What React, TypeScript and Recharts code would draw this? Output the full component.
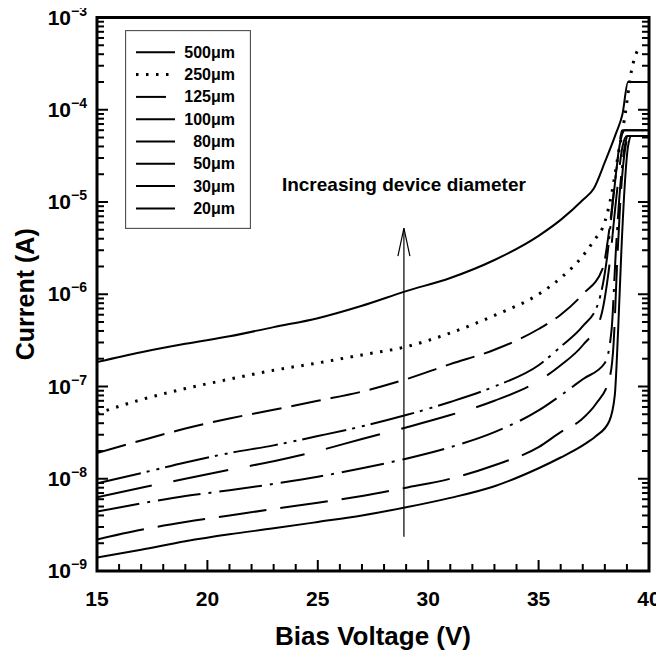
import React from 'react';
import { LineChart, Line, XAxis, YAxis, ReferenceArea, ReferenceLine, ReferenceDot, Legend, Label } from 'recharts';

const FONT = "'Liberation Sans', Arial, Helvetica, sans-serif";

// axis ticks
const X_MAJOR = [15, 20, 25, 30, 35, 40];
const X_TICKS = [15, 16, 17, 18, 19, 20, 21, 22, 23, 24, 25, 26, 27, 28, 29, 30, 31, 32, 33, 34, 35, 36, 37, 38, 39, 40];
const Y_DECADES = [1e-9, 1e-8, 1e-7, 1e-6, 1e-5, 1e-4, 1e-3];
const Y_EXPONENTS = ['−9', '−8', '−7', '−6', '−5', '−4', '−3'];
const Y_MINOR_MULTS = [2, 3, 4, 5, 6, 7, 8, 9];
const Y_TICKS = [
  ...Y_DECADES,
  ...Y_DECADES.slice(0, -1).flatMap((d) => Y_MINOR_MULTS.map((m) => m * d)),
];

// measured I-V curves, one pair of arrays per device diameter
const V_500 = [15, 17, 19, 21, 23, 25, 27, 29, 31, 33, 35, 36, 37, 37.5, 38, 38.5, 38.8, 39.05, 40];
const I_500 = [1.84e-7, 2.35e-7, 2.9e-7, 3.5e-7, 4.4e-7, 5.5e-7, 7.5e-7, 1.08e-6, 1.5e-6, 2.35e-6, 4.3e-6, 6.4e-6, 1.05e-5, 1.4e-5, 2.7e-5, 5.5e-5, 9e-5, 2e-4, 2e-4];

const V_250 = [15, 17, 19, 21, 23, 25, 27, 29, 31, 33, 35, 36, 37, 37.5, 38, 38.3, 38.6, 38.9, 39.2, 39.6];
const I_250 = [5.1e-8, 7.2e-8, 9.5e-8, 1.2e-7, 1.5e-7, 1.8e-7, 2.2e-7, 2.7e-7, 3.8e-7, 5.9e-7, 1.0e-6, 1.5e-6, 2.6e-6, 3.8e-6, 6.1e-6, 1.2e-5, 3.2e-5, 8.3e-5, 2.6e-4, 5e-4];

const V_125 = [15, 17, 19, 21, 23, 25, 27, 29, 31, 33, 35, 36, 37, 37.9, 38.2, 38.5, 38.8, 40];
const I_125 = [1.9e-8, 2.6e-8, 3.5e-8, 4.5e-8, 5.6e-8, 7e-8, 8.8e-8, 1.2e-7, 1.75e-7, 2.5e-7, 4.2e-7, 6e-7, 1.0e-6, 1.9e-6, 5e-6, 2e-5, 6e-5, 6e-5];

const V_100 = [15, 17, 19, 21, 23, 25, 27, 29, 31, 33, 35, 36, 37, 37.7, 38.1, 38.4, 38.7, 38.9, 40];
const I_100 = [8.9e-9, 1.15e-8, 1.5e-8, 1.9e-8, 2.3e-8, 2.9e-8, 3.7e-8, 4.9e-8, 6.8e-8, 1.0e-7, 1.7e-7, 2.7e-7, 4.5e-7, 8e-7, 2.5e-6, 1.2e-5, 4.5e-5, 6e-5, 6e-5];

const V_80 = [15, 17, 19, 21, 23, 25, 27, 29, 31, 33, 35, 36, 37, 37.8, 38.2, 38.5, 38.8, 39.0, 40];
const I_80 = [6.3e-9, 8e-9, 1.0e-8, 1.25e-8, 1.55e-8, 2.0e-8, 2.7e-8, 3.6e-8, 4.9e-8, 7e-8, 1.15e-7, 1.7e-7, 2.8e-7, 5.5e-7, 2e-6, 1e-5, 4e-5, 5.2e-5, 5.2e-5];

const V_50 = [15, 17, 19, 21, 23, 25, 27, 29, 31, 33, 35, 36, 37, 38, 38.3, 38.5, 38.7, 38.9, 39.05, 40];
const I_50 = [4.4e-9, 5.4e-9, 6.5e-9, 7.5e-9, 8.8e-9, 1.05e-8, 1.3e-8, 1.65e-8, 2.2e-8, 3.2e-8, 5.5e-8, 8e-8, 1.2e-7, 1.8e-7, 4e-7, 3e-6, 1.5e-5, 4e-5, 5.2e-5, 5.2e-5];

const V_30 = [15, 17, 19, 21, 23, 25, 27, 29, 31, 33, 35, 36, 36.9, 37.6, 38.2, 38.4, 38.55, 38.7, 38.9, 39.1, 40];
const I_30 = [2.2e-9, 2.8e-9, 3.4e-9, 4.0e-9, 4.7e-9, 5.5e-9, 6.5e-9, 8e-9, 1.0e-8, 1.4e-8, 2.2e-8, 3.2e-8, 4.3e-8, 6.5e-8, 1.2e-7, 3e-7, 2e-6, 1e-5, 3.5e-5, 5.2e-5, 5.2e-5];

const V_20 = [15, 17, 19, 21, 23, 25, 27, 29, 31, 33, 35, 36, 37, 37.6, 38.2, 38.45, 38.6, 38.75, 38.9, 39.05, 39.2, 40];
const I_20 = [1.4e-9, 1.7e-9, 2.1e-9, 2.5e-9, 2.9e-9, 3.4e-9, 4.0e-9, 4.9e-9, 6.2e-9, 8.3e-9, 1.3e-8, 1.7e-8, 2.3e-8, 2.9e-8, 4.2e-8, 8e-8, 4e-7, 3e-6, 1.5e-5, 4e-5, 5.2e-5, 5.2e-5];

// annotation: arrow at this bias, between these currents
const ARROW_V = 28.9;
const ARROW_I = [2.35e-9, 5.2e-6];
const NOTE_I = 1.57e-5;

const toPoints = (v: number[], i: number[]) => v.map((x, k) => ({ v: x, i: i[k] }));

const SERIES = [
  { name: '500μm', data: toPoints(V_500, I_500), dash: undefined, width: 2 },
  { name: '250μm', data: toPoints(V_250, I_250), dash: '2.5 7.5', width: 3 },
  { name: '125μm', data: toPoints(V_125, I_125), dash: '30 10', width: 2 },
  { name: '100μm', data: toPoints(V_100, I_100), dash: '45 6 3 7 3 6', width: 2 },
  { name: '80μm', data: toPoints(V_80, I_80), dash: '56 22', width: 2 },
  { name: '50μm', data: toPoints(V_50, I_50), dash: '43 8 3 8', width: 2 },
  { name: '30μm', data: toPoints(V_30, I_30), dash: '48 14', width: 2 },
  { name: '20μm', data: toPoints(V_20, I_20), dash: undefined, width: 2 },
];

function XTick(props: any) {
  const { x, y, payload } = props;
  const major = X_MAJOR.includes(payload.value);
  return (
    <g>
      <line x1={x} x2={x} y1={y} y2={y - (major ? 11 : 7)} stroke="#000" strokeWidth={2} />
      {major && (
        <text x={x} y={y + 35} textAnchor="middle" fontSize={21} fontWeight="bold" fontFamily={FONT} fill="#000">
          {payload.value}
        </text>
      )}
    </g>
  );
}

function YTickLeft(props: any) {
  const { x, y, payload } = props;
  const idx = Y_DECADES.indexOf(payload.value);
  const major = idx >= 0;
  return (
    <g>
      <line x1={x} x2={x + (major ? 11 : 7)} y1={y} y2={y} stroke="#000" strokeWidth={2} />
      {major && (
        <text x={x - 10} y={y + 7} textAnchor="end" fontSize={21} fontWeight="bold" fontFamily={FONT} fill="#000">
          10
          <tspan fontSize={14} dy={-9}>
            {Y_EXPONENTS[idx]}
          </tspan>
        </text>
      )}
    </g>
  );
}

function YTickRight(props: any) {
  const { x, y, payload } = props;
  const major = Y_DECADES.indexOf(payload.value) >= 0;
  return <line x1={x} x2={x - (major ? 11 : 7)} y1={y} y2={y} stroke="#000" strokeWidth={2} />;
}

function XTitle(props: any) {
  const vb = props.viewBox;
  return (
    <text x={vb.x + vb.width / 2} y={vb.y + 74} textAnchor="middle" fontSize={26} fontWeight="bold" fontFamily={FONT} fill="#000">
      Bias Voltage (V)
    </text>
  );
}

function YTitle(props: any) {
  const vb = props.viewBox;
  const cx = 25;
  const cy = vb.y + vb.height / 2;
  return (
    <text
      x={cx}
      y={cy}
      transform={`rotate(-90 ${cx} ${cy})`}
      textAnchor="middle"
      dominantBaseline="central"
      fontSize={25}
      fontWeight="bold"
      fontFamily={FONT}
      fill="#000"
    >
      Current (A)
    </text>
  );
}

function ArrowShape(p: any) {
  const x = p.x1;
  const top = Math.min(p.y1, p.y2);
  const bottom = Math.max(p.y1, p.y2);
  return (
    <g>
      <line x1={x} x2={x} y1={bottom} y2={top} stroke="#000" strokeWidth={1.2} />
      <polyline points={`${x - 6},${top + 28} ${x},${top} ${x + 6},${top + 28}`} fill="none" stroke="#000" strokeWidth={1.2} />
    </g>
  );
}

function NoteText(p: any) {
  return (
    <text x={p.cx} y={p.cy} dy="0.35em" textAnchor="middle" fontSize={19} fontWeight="bold" fontFamily={FONT} fill="#000">
      Increasing device diameter
    </text>
  );
}

function LegendBox() {
  const rowTop = 22.3;
  const rowStep = 22.3;
  return (
    <svg width={126} height={199} style={{ display: 'block' }}>
      <rect x={0.5} y={0.5} width={125} height={198} fill="#fff" stroke="#555" strokeWidth={1.3} />
      {SERIES.map((s, k) => {
        const y = rowTop + k * rowStep;
        return (
          <g key={s.name}>
            <line x1={11} x2={50} y1={y} y2={y} stroke="#000" strokeWidth={s.width} strokeDasharray={s.dash} />
            <text x={110} y={y + 5.5} textAnchor="end" fontSize={16} fontWeight="bold" fontFamily={FONT} fill="#000">
              {s.name}
            </text>
          </g>
        );
      })}
    </svg>
  );
}

export default function App() {
  return (
    <div style={{ width: 664, height: 650, margin: '-8px 0 0 -8px', background: '#fff' }}>
      <LineChart width={664} height={650} margin={{ top: 17.5, right: 10, bottom: 0, left: 0 }}>
        <XAxis
          type="number"
          dataKey="v"
          domain={[15, 40]}
          ticks={X_TICKS}
          interval={0}
          allowDataOverflow
          height={79}
          axisLine={false}
          tickLine={false}
          tickSize={0}
          tickMargin={0}
          tick={<XTick />}
        >
          <Label content={<XTitle />} />
        </XAxis>
        <YAxis
          yAxisId="l"
          type="number"
          scale="log"
          domain={[1e-9, 1e-3]}
          ticks={Y_TICKS}
          interval={0}
          allowDataOverflow
          width={97}
          axisLine={false}
          tickLine={false}
          tickSize={0}
          tickMargin={0}
          tick={<YTickLeft />}
        >
          <Label content={<YTitle />} />
        </YAxis>
        <YAxis
          yAxisId="r"
          orientation="right"
          type="number"
          scale="log"
          domain={[1e-9, 1e-3]}
          ticks={Y_TICKS}
          interval={0}
          allowDataOverflow
          width={5}
          axisLine={false}
          tickLine={false}
          tickSize={0}
          tickMargin={0}
          tick={<YTickRight />}
        />
        <Legend
          layout="vertical"
          align="center"
          verticalAlign="middle"
          wrapperStyle={{ position: 'absolute', left: 125, top: 30, width: 126, height: 199 }}
          content={() => <LegendBox />}
        />
        {SERIES.map((s) => (
          <Line
            key={s.name}
            yAxisId="l"
            data={s.data}
            dataKey="i"
            name={s.name}
            type="monotone"
            stroke="#000"
            strokeWidth={s.width}
            strokeDasharray={s.dash}
            dot={false}
            activeDot={false}
            isAnimationActive={false}
          />
        ))}
        <ReferenceLine
          yAxisId="l"
          segment={[
            { x: ARROW_V, y: ARROW_I[0] },
            { x: ARROW_V, y: ARROW_I[1] },
          ]}
          shape={ArrowShape}
        />
        <ReferenceDot yAxisId="l" x={ARROW_V} y={NOTE_I} r={0} shape={NoteText} />
        <ReferenceArea yAxisId="l" x1={15} x2={40} y1={1e-9} y2={1e-3} fill="none" stroke="#000" strokeWidth={3} />
      </LineChart>
    </div>
  );
}
